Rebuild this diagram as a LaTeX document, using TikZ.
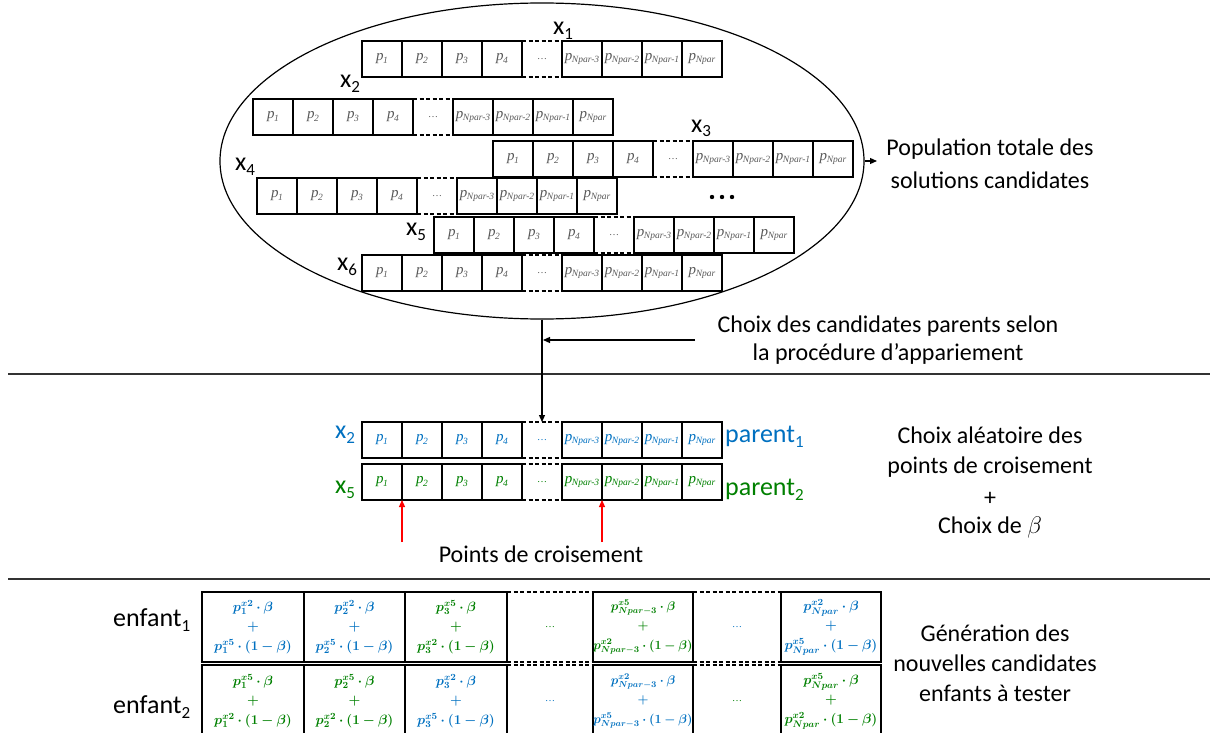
\RequirePackage{fix-cm}
\documentclass[tikz,border=0pt]{standalone}
\usepackage[no-math]{fontspec}
\setmainfont{Carlito}
\newfontfamily\tms{Liberation Serif}
\usepackage{amsmath,bm}
\usetikzlibrary{shapes.geometric,arrows.meta}
\definecolor{pblue}{HTML}{0070C0}
\definecolor{pgreen}{HTML}{008000}
\definecolor{pgray}{HTML}{595959}
\newcommand\pc[1]{{\tms\itshape\fontsize{15}{15}\selectfont p\kern-0.3pt\raisebox{-2.8pt}{\fontsize{9.5}{9.5}\selectfont #1}}}
\newcommand\gapdots{{\tms\fontsize{10}{10}\selectfont\dots}}
\newcommand\lab[2]{#1\raisebox{-5pt}{\fontsize{17}{17}\selectfont #2}}
\newcommand\mixt[3]{$\bm{p_{#1}^{x#2}\cdot\beta}$\\$\bm{+}$\\$\bm{p_{#1}^{x#3}\cdot(1-\beta)}$}
\tikzset{
  cell/.style={draw, line width=1.3pt, minimum width=40pt, minimum height=36pt, inner sep=0pt, outer sep=0pt, anchor=north west},
  gapcell/.style={minimum width=40pt, minimum height=36pt, inner sep=0pt, outer sep=0pt, anchor=north west},
  dashline/.style={line width=1.3pt, dash pattern=on 4pt off 2.5pt},
  bcell/.style={draw, line width=1.3pt, minimum height=70pt, inner sep=0pt, outer sep=0pt, anchor=north west, align=center, font=\fontsize{13.5}{19.5}\selectfont},
  small/.style={font=\fontsize{12.5}{19.5}\selectfont},
  bgap/.style={minimum height=70pt, inner sep=0pt, outer sep=0pt, anchor=north west, align=center, font=\fontsize{13.5}{19.5}\selectfont},
  txt/.style={font=\fontsize{24}{24}\selectfont, anchor=base, inner sep=0pt},
  xlab/.style={font=\fontsize{26}{26}\selectfont, anchor=base west, inner sep=0pt},
  conn/.style={line width=1.2pt, -{Triangle[length=7pt,width=6pt]}},
  sep/.style={line width=1.2pt, black!80}
}
\newcommand\chrom[4]{%
  \foreach \i/\s in {1/1,2/2,3/3,4/4,6/Npar-3,7/Npar-2,8/Npar-1,9/Npar}{
    \node[cell, text=#4] (#1-\i) at ({#2+40*(\i-1)},#3) {\pc{\s}};
  }
  \node[gapcell, text=#4] (#1-5) at ({#2+160},#3) {\gapdots};
  \draw[dashline] (#1-5.north west) -- (#1-5.north east) (#1-5.south west) -- (#1-5.south east);
}
\begin{document}
\begin{tikzpicture}[x=1pt,y=-1pt]
\useasboundingbox (0,0) rectangle (1215,733);
\clip (0,0) rectangle (1215,733);
% population
\node[draw, ellipse, line width=1.2pt, minimum width=644pt, minimum height=316pt, inner sep=0pt] (pop) at (542,161) {};
\chrom{xa}{362}{41}{pgray}
\chrom{xb}{253}{99}{pgray}
\chrom{xc}{493}{141}{pgray}
\chrom{xd}{257}{178}{pgray}
\chrom{xe}{434}{217}{pgray}
\chrom{xf}{362}{255}{pgray}
\node[xlab] (lxa) at (553,35) {\lab{x}{1}};
\node[xlab] (lxb) at (340,88) {\lab{x}{2}};
\node[xlab] (lxc) at (691,132) {\lab{x}{3}};
\node[xlab] (lxd) at (235,171) {\lab{x}{4}};
\node[xlab] (lxe) at (406,235) {\lab{x}{5}};
\node[xlab] (lxf) at (337,270) {\lab{x}{6}};
\fill (712,197) circle (2.2pt) (722,197) circle (2.2pt) (732,197) circle (2.2pt);
\coordinate (popend) at (877,161);
\draw[conn] (pop.east) -- (popend);
\node[txt] (pop1) at (990,155) {Population totale des};
\node[txt] (pop2) at (990,188) {solutions candidates};
% selection
\node[txt] (ch1) at (888,332) {Choix des candidates parents selon};
\node[txt] (ch2) at (888,360) {la procédure d’appariement};
\draw[sep] (8,374) -- (1210,374);
\draw[sep] (8,579) -- (1210,579);
% parents
\chrom{pa}{362}{422}{pblue}
\chrom{pb}{362}{464}{pgreen}
\draw[conn] (pop.south) -- (pa-5.north);
\coordinate (chstart) at (695,340);
\coordinate (vj) at (543,340);
\draw[conn] (chstart) -- (vj);
\node[xlab, text=pblue] (lpa) at (335,438) {\lab{x}{2}};
\node[xlab, text=pgreen] (lpb) at (335,493) {\lab{x}{5}};
\node[xlab, text=pblue] (npa) at (725,442) {\lab{parent}{1}};
\node[xlab, text=pgreen] (npb) at (725,495) {\lab{parent}{2}};
\coordinate (ra) at (402,542);
\coordinate (rb) at (602,542);
\draw[conn, red] (ra) -- (pb-2.south west);
\draw[conn, red] (rb) -- (pb-7.south west);
\node[txt] (pts) at (541,562) {Points de croisement};
\node[txt] (al1) at (990,443) {Choix aléatoire des};
\node[txt] (al2) at (990,473) {points de croisement};
\node[txt] (al3) at (990,505) {+};
\node[txt] (al4) at (990,533) {Choix de $\beta$};
% children
\node[bcell, minimum width=102pt, text=pblue] (ea-1) at (202,592) {\mixt{1}{2}{5}};
\node[bcell, minimum width=101pt, text=pblue] (ea-2) at (304,592) {\mixt{2}{2}{5}};
\node[bcell, minimum width=102pt, text=pgreen] (ea-3) at (405,592) {\mixt{3}{5}{2}};
\node[bgap, minimum width=86pt, text=pgreen] (ea-4) at (507,592) {\gapdots};
\node[bcell, small, minimum width=100pt, text=pgreen] (ea-5) at (593,592) {\mixt{Npar-3}{5}{2}};
\node[bgap, minimum width=88pt, text=pblue] (ea-6) at (693,592) {\gapdots};
\node[bcell, minimum width=100pt, text=pblue] (ea-7) at (781,592) {\mixt{Npar}{2}{5}};
\node[bcell, minimum width=102pt, minimum height=72pt, text=pgreen] (eb-1) at (202,665) {\mixt{1}{5}{2}};
\node[bcell, minimum width=101pt, minimum height=72pt, text=pgreen] (eb-2) at (304,665) {\mixt{2}{5}{2}};
\node[bcell, minimum width=102pt, minimum height=72pt, text=pblue] (eb-3) at (405,665) {\mixt{3}{2}{5}};
\node[bgap, minimum width=86pt, minimum height=72pt, text=pblue] (eb-4) at (507,665) {\gapdots};
\node[bcell, small, minimum width=100pt, minimum height=72pt, text=pblue] (eb-5) at (593,665) {\mixt{Npar-3}{2}{5}};
\node[bgap, minimum width=88pt, minimum height=72pt, text=pgreen] (eb-6) at (693,665) {\gapdots};
\node[bcell, minimum width=100pt, minimum height=72pt, text=pgreen] (eb-7) at (781,665) {\mixt{Npar}{5}{2}};
\foreach \r in {ea,eb}{
  \foreach \c in {4,6}{
    \draw[dashline] (\r-\c.north west) -- (\r-\c.north east) (\r-\c.south west) -- (\r-\c.south east);
  }
}
\node[xlab] (ena) at (113,626) {\lab{enfant}{1}};
\node[xlab] (enb) at (113,713) {\lab{enfant}{2}};
\node[txt] (gen1) at (995,641) {Génération des};
\node[txt] (gen2) at (995,671) {nouvelles candidates};
\node[txt] (gen3) at (995,701) {enfants à tester};
\end{tikzpicture}
\end{document}
